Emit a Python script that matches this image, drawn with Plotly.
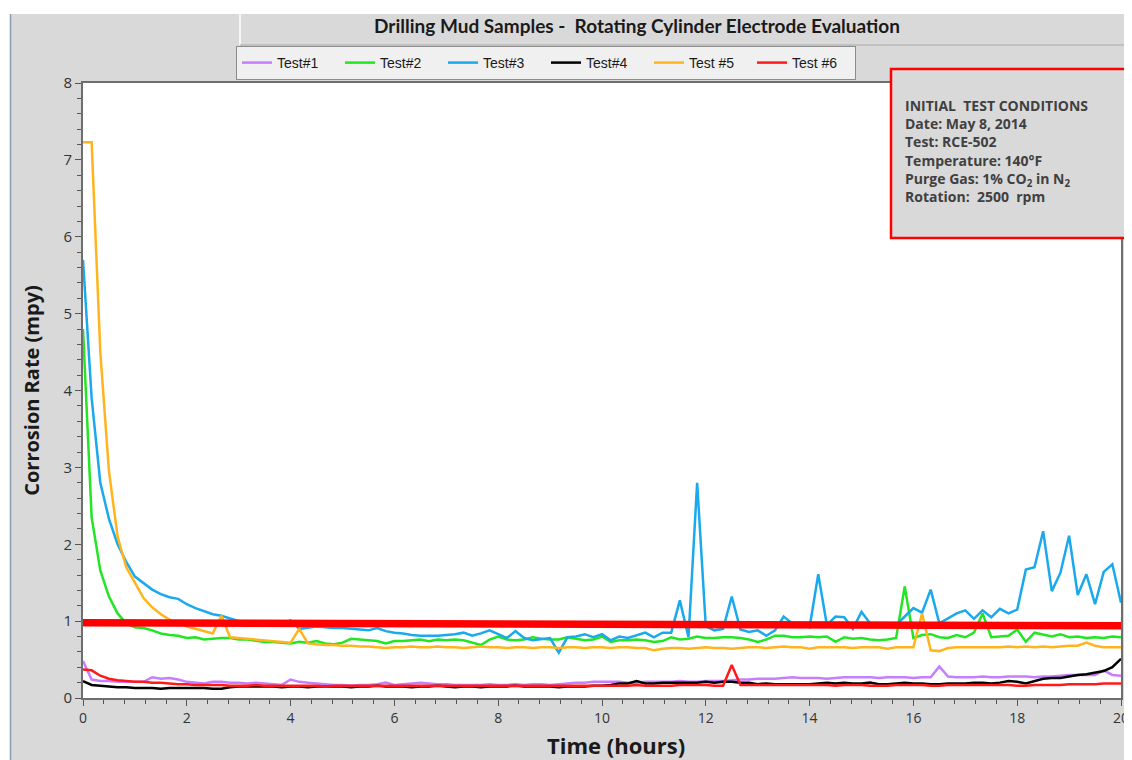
import plotly.graph_objects as go

# ---------------- data (10-minute samples, 0..20 h) ----------------
hours = [round(i / 6, 4) for i in range(121)]

test1 = [0.48, 0.24, 0.22, 0.22, 0.21, 0.21, 0.21, 0.21, 0.27, 0.25, 0.26, 0.24, 0.21, 0.20, 0.19, 0.21, 0.21, 0.20,
         0.20, 0.19, 0.20, 0.19, 0.18, 0.17, 0.24, 0.21, 0.20, 0.19, 0.18, 0.17, 0.17, 0.16, 0.17, 0.17, 0.18, 0.20,
         0.17, 0.18, 0.19, 0.20, 0.19, 0.18, 0.18, 0.17, 0.17, 0.17, 0.17, 0.18, 0.17, 0.17, 0.18, 0.17, 0.18, 0.18,
         0.17, 0.18, 0.19, 0.20, 0.20, 0.21, 0.21, 0.21, 0.21, 0.20, 0.20, 0.21, 0.21, 0.21, 0.21, 0.22, 0.21, 0.21,
         0.22, 0.22, 0.22, 0.23, 0.24, 0.24, 0.25, 0.25, 0.25, 0.26, 0.27, 0.26, 0.26, 0.26, 0.25, 0.26, 0.27, 0.27,
         0.27, 0.27, 0.26, 0.27, 0.27, 0.27, 0.26, 0.27, 0.27, 0.41, 0.28, 0.27, 0.27, 0.27, 0.28, 0.27, 0.27, 0.28,
         0.28, 0.28, 0.27, 0.28, 0.28, 0.29, 0.30, 0.30, 0.30, 0.30, 0.36, 0.30, 0.29]

test2 = [4.8, 2.35, 1.66, 1.32, 1.10, 0.97, 0.92, 0.91, 0.88, 0.84, 0.82, 0.81, 0.78, 0.79, 0.76, 0.77, 0.78, 0.78,
         0.76, 0.76, 0.74, 0.73, 0.73, 0.72, 0.71, 0.73, 0.72, 0.74, 0.71, 0.70, 0.72, 0.77, 0.76, 0.75, 0.74, 0.71,
         0.74, 0.74, 0.75, 0.76, 0.74, 0.76, 0.75, 0.76, 0.75, 0.72, 0.69, 0.76, 0.80, 0.76, 0.75, 0.76, 0.79, 0.77,
         0.76, 0.76, 0.79, 0.77, 0.75, 0.76, 0.80, 0.73, 0.75, 0.75, 0.76, 0.75, 0.73, 0.74, 0.79, 0.76, 0.77, 0.80,
         0.78, 0.78, 0.79, 0.79, 0.78, 0.76, 0.73, 0.76, 0.81, 0.81, 0.79, 0.79, 0.80, 0.79, 0.80, 0.73, 0.79, 0.77,
         0.78, 0.76, 0.75, 0.76, 0.78, 1.45, 0.78, 0.82, 0.83, 0.79, 0.78, 0.82, 0.79, 0.85, 1.10, 0.79, 0.80, 0.81,
         0.89, 0.73, 0.85, 0.82, 0.80, 0.83, 0.79, 0.80, 0.78, 0.79, 0.78, 0.80, 0.79]

test3 = [5.7, 3.9, 2.8, 2.33, 2.0, 1.77, 1.58, 1.49, 1.41, 1.35, 1.31, 1.29, 1.22, 1.17, 1.13, 1.09, 1.07, 1.03,
         1.00, 0.98, 0.97, 0.97, 0.96, 0.97, 1.01, 0.90, 0.92, 0.93, 0.92, 0.91, 0.91, 0.90, 0.89, 0.88, 0.91, 0.87,
         0.85, 0.84, 0.82, 0.81, 0.81, 0.81, 0.82, 0.83, 0.85, 0.81, 0.84, 0.88, 0.83, 0.78, 0.87, 0.78, 0.75, 0.77,
         0.78, 0.59, 0.79, 0.80, 0.83, 0.79, 0.83, 0.75, 0.80, 0.78, 0.82, 0.85, 0.79, 0.85, 0.85, 1.27, 0.79, 2.80,
         0.93, 0.88, 0.90, 1.32, 0.89, 0.86, 0.88, 0.81, 0.88, 1.06, 0.97, 0.96, 0.92, 1.61, 0.95, 1.06, 1.05, 0.90,
         1.12, 0.97, 0.95, 0.95, 0.95, 1.06, 1.17, 1.11, 1.41, 0.97, 1.03, 1.10, 1.14, 1.03, 1.14, 1.05, 1.16, 1.10,
         1.15, 1.67, 1.70, 2.17, 1.39, 1.63, 2.11, 1.34, 1.61, 1.22, 1.64, 1.74, 1.24]

test4 = [0.22, 0.17, 0.16, 0.15, 0.14, 0.14, 0.13, 0.13, 0.13, 0.12, 0.13, 0.13, 0.13, 0.13, 0.13, 0.12, 0.12, 0.14,
         0.15, 0.15, 0.15, 0.15, 0.15, 0.14, 0.15, 0.15, 0.14, 0.15, 0.15, 0.15, 0.15, 0.14, 0.15, 0.15, 0.16, 0.15,
         0.15, 0.15, 0.14, 0.15, 0.15, 0.16, 0.15, 0.14, 0.15, 0.15, 0.14, 0.15, 0.15, 0.15, 0.16, 0.15, 0.15, 0.15,
         0.15, 0.14, 0.15, 0.15, 0.15, 0.16, 0.16, 0.17, 0.19, 0.19, 0.22, 0.19, 0.19, 0.20, 0.20, 0.20, 0.20, 0.20,
         0.21, 0.20, 0.21, 0.21, 0.20, 0.20, 0.18, 0.19, 0.18, 0.18, 0.18, 0.18, 0.18, 0.19, 0.20, 0.19, 0.20, 0.19,
         0.19, 0.20, 0.18, 0.18, 0.19, 0.20, 0.19, 0.19, 0.18, 0.18, 0.19, 0.19, 0.19, 0.20, 0.20, 0.19, 0.20, 0.22,
         0.21, 0.19, 0.22, 0.25, 0.26, 0.26, 0.28, 0.30, 0.31, 0.33, 0.35, 0.40, 0.51]

test5 = [7.23, 7.23, 4.5, 2.95, 2.1, 1.7, 1.5, 1.3, 1.18, 1.09, 1.02, 0.97, 0.93, 0.90, 0.87, 0.84, 1.07, 0.79,
         0.78, 0.77, 0.76, 0.75, 0.74, 0.73, 0.72, 0.90, 0.71, 0.70, 0.69, 0.69, 0.68, 0.68, 0.67, 0.67, 0.66, 0.65,
         0.66, 0.66, 0.67, 0.66, 0.66, 0.67, 0.66, 0.66, 0.65, 0.66, 0.67, 0.66, 0.66, 0.65, 0.66, 0.66, 0.65, 0.66,
         0.66, 0.65, 0.66, 0.66, 0.65, 0.66, 0.66, 0.65, 0.66, 0.66, 0.65, 0.65, 0.62, 0.64, 0.65, 0.65, 0.64, 0.65,
         0.66, 0.65, 0.65, 0.64, 0.65, 0.66, 0.66, 0.65, 0.66, 0.67, 0.66, 0.66, 0.64, 0.66, 0.66, 0.66, 0.66, 0.65,
         0.66, 0.66, 0.66, 0.64, 0.66, 0.66, 0.66, 1.10, 0.62, 0.61, 0.65, 0.66, 0.66, 0.66, 0.66, 0.66, 0.66, 0.67,
         0.66, 0.67, 0.66, 0.67, 0.66, 0.67, 0.68, 0.68, 0.72, 0.68, 0.66, 0.66, 0.66]

test6 = [0.37, 0.36, 0.29, 0.25, 0.23, 0.22, 0.21, 0.21, 0.20, 0.20, 0.19, 0.18, 0.18, 0.17, 0.17, 0.17, 0.17, 0.16,
         0.16, 0.16, 0.17, 0.16, 0.16, 0.16, 0.16, 0.16, 0.16, 0.16, 0.15, 0.16, 0.16, 0.16, 0.16, 0.16, 0.16, 0.16,
         0.16, 0.16, 0.16, 0.16, 0.16, 0.16, 0.16, 0.16, 0.16, 0.16, 0.16, 0.16, 0.16, 0.16, 0.16, 0.16, 0.16, 0.16,
         0.16, 0.16, 0.16, 0.16, 0.16, 0.16, 0.16, 0.16, 0.16, 0.16, 0.17, 0.16, 0.16, 0.16, 0.16, 0.17, 0.17, 0.17,
         0.17, 0.16, 0.16, 0.43, 0.17, 0.17, 0.17, 0.17, 0.17, 0.17, 0.17, 0.17, 0.17, 0.17, 0.17, 0.16, 0.17, 0.17,
         0.17, 0.16, 0.16, 0.16, 0.17, 0.17, 0.17, 0.17, 0.16, 0.16, 0.17, 0.17, 0.17, 0.17, 0.17, 0.17, 0.17, 0.17,
         0.16, 0.16, 0.17, 0.17, 0.17, 0.17, 0.18, 0.18, 0.18, 0.18, 0.19, 0.19, 0.19]

threshold_hours = [0, 20]
threshold_rate = [0.98, 0.94]

series_names = ["Test#1", "Test#2", "Test#3", "Test#4", "Test #5", "Test #6"]
series_values = [test1, test2, test3, test4, test5, test6]
series_colors = ["#c77dff", "#22e622", "#1aa9ec", "#000000", "#ffb41e", "#ff1a1a"]

x_ticks = [0, 2, 4, 6, 8, 10, 12, 14, 16, 18, 20]
y_ticks = [0, 1, 2, 3, 4, 5, 6, 7, 8]

conditions = ("INITIAL  TEST CONDITIONS<br>Date: May 8, 2014<br>Test: RCE-502<br>"
              "Temperature: 140°F<br>Purge Gas: 1% CO<sub>2</sub> in N<sub>2</sub><br>Rotation:  2500  rpm")

# ---------------- figure ----------------
fig = go.Figure()
for name, vals, col in zip(series_names, series_values, series_colors):
    fig.add_trace(go.Scatter(x=hours, y=vals, mode="lines", name=name,
                             line=dict(color=col, width=2.5)))

fig.add_trace(go.Scatter(x=threshold_hours, y=threshold_rate, mode="lines",
                         line=dict(color="#ff0000", width=7.5), showlegend=False,
                         hoverinfo="skip"))

# page is offset by the 8px body margin of the html page
OFF = 8
W, H = 1132 - OFF, 760 - OFF
PL, PR, PT, PB = 83, 1121, 83, 698          # plot area in page pixels
L, R, T, B = PL - OFF, W - (PR - OFF), PT - OFF, H - (PB - OFF)


def px_x(p):
    return (p - PL) / (PR - PL)


def px_y(p):
    return (PB - p) / (PB - PT)


shapes = [
    # white strip on top and left (beyond the page margin)
    dict(type="rect", xref="paper", yref="paper", x0=px_x(0), x1=px_x(1140), y0=px_y(14), y1=px_y(0),
         fillcolor="white", line=dict(width=0), layer="below"),
    dict(type="rect", xref="paper", yref="paper", x0=px_x(0), x1=px_x(10), y0=px_y(770), y1=px_y(0),
         fillcolor="white", line=dict(width=0), layer="below"),
    dict(type="line", xref="paper", yref="paper", x0=px_x(10.5), x1=px_x(10.5), y0=px_y(770), y1=px_y(14),
         line=dict(color="#8d9db3", width=1.5), layer="below"),
    # title panel edges
    dict(type="line", xref="paper", yref="paper", x0=px_x(240), x1=px_x(240), y0=px_y(45), y1=px_y(14),
         line=dict(color="white", width=1.5), layer="below"),
    dict(type="line", xref="paper", yref="paper", x0=px_x(240), x1=px_x(1140), y0=px_y(45), y1=px_y(45),
         line=dict(color="#a8a8a8", width=1), layer="below"),
    # conditions box
    dict(type="rect", xref="paper", yref="paper", x0=px_x(891), x1=px_x(1140), y0=px_y(238), y1=px_y(69),
         fillcolor="#d9d9d9", line=dict(color="#ff0000", width=2.5), layer="above"),
]

fig.update_layout(
    width=W, height=H,
    margin=dict(l=L, r=R, t=T, b=B, autoexpand=False),
    paper_bgcolor="#d9d9d9",
    plot_bgcolor="white",
    title=dict(text="<b>Drilling Mud Samples -  Rotating Cylinder Electrode Evaluation</b>",
               x=(637 - OFF) / W, xanchor="center", y=(H - (26 - OFF)) / H, yanchor="middle",
               font=dict(family="Lato, Open Sans, sans-serif", size=19, color="#1a1a1a")),
    legend=dict(orientation="h", x=px_x(546), xanchor="center", y=px_y(46), yanchor="top",
                bgcolor="#f0f0f0", bordercolor="#8c8c8c", borderwidth=1,
                font=dict(family="Liberation Sans Narrow, Liberation Sans, Arial, sans-serif", size=14,
                          color="#1a1a1a"),
                itemwidth=30, entrywidth=58, entrywidthmode="pixels", tracegroupgap=0),
    shapes=shapes,
    annotations=[
        dict(text="<b>" + conditions + "</b>", xref="paper", yref="paper",
             x=px_x(903), y=px_y(94), xanchor="left", yanchor="top", align="left",
             showarrow=False,
             font=dict(family="Open Sans, sans-serif", size=14, color="#404040")),
        dict(text="<b>Time (hours)</b>", xref="paper", yref="paper",
             x=px_x(616), y=px_y(745), xanchor="center", yanchor="middle", showarrow=False,
             font=dict(family="Open Sans, sans-serif", size=22, color="#1a1a1a")),
    ],
    showlegend=True,
)

fig.update_xaxes(range=[0, 20], tickvals=x_ticks, ticks="outside", ticklen=6, tickwidth=1,
                 tickcolor="#555", showgrid=False, zeroline=False, automargin=False,
                 showline=True, linecolor="#6e6e6e", linewidth=2, mirror=True,
                 minor=dict(dtick=0.4, ticks="outside", ticklen=4, tickcolor="#555"),
                 tickfont=dict(family="Open Sans, sans-serif", size=14, color="#333"))
fig.update_yaxes(range=[0, 8], tickvals=y_ticks, ticks="outside", ticklen=6, tickwidth=1,
                 tickcolor="#555", showgrid=False, zeroline=False, automargin=False,
                 showline=True, linecolor="#6e6e6e", linewidth=2, mirror=True,
                 minor=dict(dtick=0.2, ticks="outside", ticklen=4, tickcolor="#555"),
                 tickfont=dict(family="Open Sans, sans-serif", size=15, color="#333"),
                 title=dict(text="<b>Corrosion Rate (mpy)</b>", standoff=18,
                            font=dict(family="Open Sans, sans-serif", size=20, color="#1a1a1a")))

fig.write_html("out.html")
